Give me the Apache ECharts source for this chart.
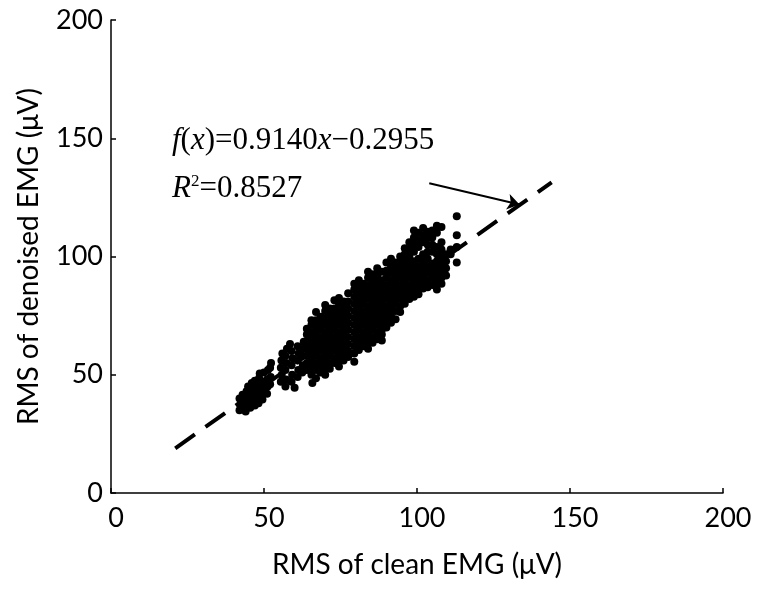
<!DOCTYPE html>
<html><head><meta charset="utf-8">
<script src="https://cdn.jsdelivr.net/npm/echarts/dist/echarts.min.js"></script>
<style>html,body{margin:0;padding:0;background:#fff}#c{width:764px;height:597px}</style>
</head><body><div id="c"></div>
<script>
// ---- data ----
const xAxisTitle = 'RMS of clean EMG (\u03bcV)';
const yAxisTitle = 'RMS of denoised EMG (\u03bcV)';
const axisTicks = [0, 50, 100, 150, 200];
const fitSlope = 0.9140;
const fitIntercept = -0.2955;
const fitXRange = [21, 144];
const arrowFrom = [104, 131];
const arrowTo = [133.5, 122];

// lower-left cluster
const clusterA = [
  [42,35],[42.3,37.5],[42,40],[43,36],[43.2,38.5],[43,41.5],[44,34.5],[44.2,37.3],[44,40],[44.3,43],
  [44.8,45],[45.5,36],[45.6,38.4],[45.5,41],[45.8,44],[46,46.5],[47,37],[47.2,39.5],[47,42],[47.3,45],
  [47,47.5],[48.2,38],[48,40.5],[48.3,43],[48,46],[48.4,48.5],[48.6,50.5],[49.5,39.5],[49.8,42],[49.5,44.5],
  [49.7,47],[50,51],[51,42],[51.2,45],[51,48],[51.3,52],[52,46],[52.2,49],[52,53],[52.3,55]
];
// second cluster
const clusterB = [
  [55.5,47],[55.8,50],[55.5,53],[55.7,56],[56,59],[57,45],[57.2,48],[57,52],[57.3,55],[57,58],
  [57.5,61],[59,47],[59.2,50],[59,54],[59.3,57],[59,60],[61,49],[61.2,52],[61,56],[61.3,59],
  [61,62],[62.5,51],[62.7,54],[62.5,58],[62.8,61],[63,64],[65.8,46.5],[60,44.5],[58.5,63]
];
// main cloud, by column: [x, [y values]]
const clusterC = [
  [64,[52,55,58,61,64,67,69.5]],
  [65.5,[50,53,56,59,62,65,68,71,73]],
  [67,[48.5,52,55,58,61,64,67,70,73,76.5]],
  [68.5,[51,54,57,60,63,66,69,72,74.5]],
  [70,[50,53,56,59,62,65,68,71,74,77,79.5]],
  [71.5,[52.5,55,58,61,64,67,70,73,76,78]],
  [73,[55,57,60,63,66,69,72,75,78,81.5]],
  [74.5,[53.5,56,59,62,65,68,71,74,77,80,82.5]],
  [76,[56,58,61,64,67,70,73,76,79,81]],
  [77.5,[57.5,60,63,66,69,72,75,78,81,84.5]],
  [79.5,[55.5,59,62,65,68,71,74,77,80,83,86,88.5]],
  [81,[60.5,63,66,69,72,75,78,81,84,87,90]],
  [82.5,[62,65,68,71,74,77,80,83,86,88.5]],
  [84,[61,64,67,70,73,76,79,82,85,88,91,93.5]],
  [85.5,[63.5,66,69,72,75,78,81,84,87,90,92.5]],
  [87,[65,68,71,74,77,80,83,86,89,92,95]],
  [88.5,[64.5,67,69,72,75,78,81,84,87,90,93.5]],
  [90,[70,73,76,79,82,85,88,91,94,97.5]],
  [91.5,[72,75,78,81,84,87,90,93,96,99]],
  [93,[73.5,77,80,83,86,89,92,95,97.5]],
  [94.5,[76.5,79,82,85,88,91,94,97,100]]
];
// upper cluster, by column
const clusterD = [
  [96,[80,83,86,89,92,95,98,101,103.5]],
  [97.5,[82,85,88,91,94,97,100,103,106]],
  [99,[83,86,89,92,95,98,102,105,108,111]],
  [100.5,[84,87,90,93,96,99,104,107,110]],
  [102,[86.5,89,92,95,98,101,106,109,112]],
  [103.5,[87,90,93,96,99,102,105,108,110.5]],
  [105,[88,91,94,97,102,105,108,111]],
  [106.5,[86,89,92,95,98,101,104,110,113]],
  [108,[88.5,91,94,97,100,103,106,112.5]],
  [109.5,[92,95,98,101]],
  [111,[101,103]],
  [113,[97.5,104,109,117]]
];

// ---- build ----
const flattenCols = cols => cols.flatMap(([x, ys]) => ys.map(y => [x, y]));
const points = clusterA.concat(clusterB, flattenCols(clusterC), flattenCols(clusterD));
const fitLine = fitXRange.map(x => [x, fitSlope * x + fitIntercept]);

const sans = 'Lato';
const serif = 'Liberation Serif';
const chart = echarts.init(document.getElementById('c'), null, {renderer: 'canvas'});
const axisCommon = {
  type: 'value', min: axisTicks[0], max: axisTicks[axisTicks.length - 1], interval: 50,
  nameLocation: 'middle',
  nameTextStyle: {fontFamily: sans, fontSize: 28, color: '#000'},
  axisLine: {show: true, lineStyle: {color: '#000', width: 1.5}},
  axisTick: {show: true, inside: true, length: 5, lineStyle: {color: '#000', width: 1.5}},
  splitLine: {show: false},
  axisLabel: {fontFamily: sans, fontSize: 27, color: '#000'}
};
chart.setOption({
  animation: false,
  backgroundColor: '#fff',
  grid: {left: 111, right: 41, top: 20, bottom: 104, containLabel: false},
  xAxis: Object.assign({}, axisCommon, {
    name: xAxisTitle, nameGap: 58,
    axisLabel: Object.assign({}, axisCommon.axisLabel, {margin: 12, padding: [0, 0, 0, 10]})
  }),
  yAxis: Object.assign({}, axisCommon, {
    name: yAxisTitle, nameGap: 68,
    axisLabel: Object.assign({}, axisCommon.axisLabel, {margin: 8})
  }),
  graphic: [
    {type: 'text', left: 172, top: 125, style: {
      text: '{i|f}{n|(}{i|x}{n|)=0.9140}{i|x}{n|\u22120.2955}',
      rich: {
        i: {fontFamily: serif, fontStyle: 'italic', fontSize: 31, fill: '#000'},
        n: {fontFamily: serif, fontSize: 31, fill: '#000'}
      }
    }},
    {type: 'text', left: 172, top: 173, style: {
      text: '{i|R}{s|2}{n|=0.8527}',
      rich: {
        i: {fontFamily: serif, fontStyle: 'italic', fontSize: 31, fill: '#000'},
        s: {fontFamily: serif, fontSize: 17, fill: '#000', verticalAlign: 'top', padding: [0, 0, 12, 0]},
        n: {fontFamily: serif, fontSize: 31, fill: '#000'}
      }
    }}
  ],
  series: [
    {
      type: 'line', data: fitLine, symbol: 'none', silent: true, z: 1,
      lineStyle: {color: '#000', width: 4, type: [24, 13], cap: 'butt'}
    },
    {
      type: 'scatter', data: points, symbol: 'circle', symbolSize: 8,
      itemStyle: {color: '#000', opacity: 1}, silent: true, z: 3
    },
    {
      type: 'lines', coordinateSystem: 'cartesian2d', silent: true, z: 4,
      symbol: ['none', 'arrow'], symbolSize: 12,
      lineStyle: {color: '#000', width: 2, opacity: 1},
      data: [{coords: [arrowFrom, arrowTo]}]
    }
  ]
});
</script>
</body></html>
